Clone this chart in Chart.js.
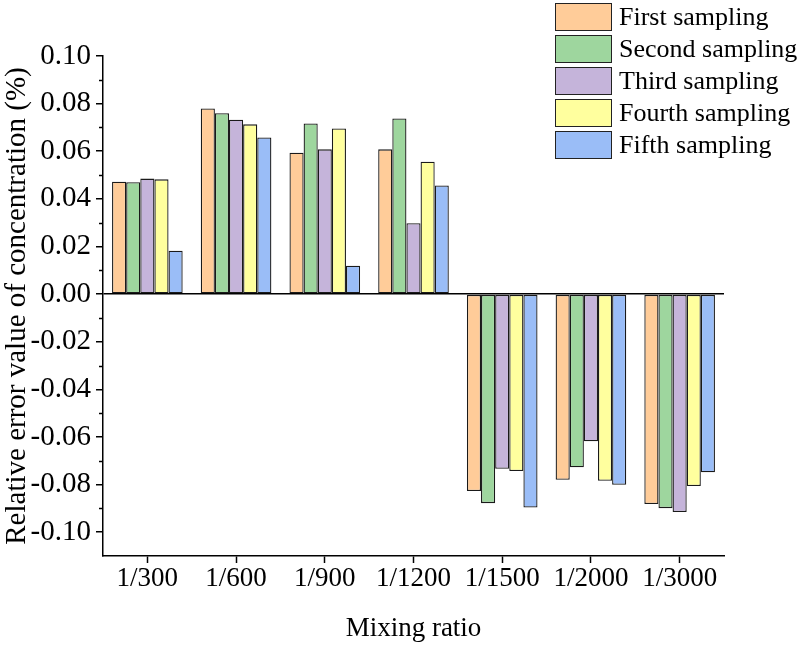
<!DOCTYPE html>
<html>
<head>
<meta charset="utf-8">
<script src="https://cdn.jsdelivr.net/npm/chart.js@4/dist/chart.umd.min.js"></script>
<style>
    body { margin: 0; background: #fff; }
    #wrap { position: relative; width: 799px; height: 645px; }
    #legenda { position: absolute; left: 555px; top: 1px; font-family: 'Liberation Serif', 'Times New Roman', serif; font-size: 26px; color: #000; }
    .item { display: flex; align-items: center; height: 32px; }
    .caixa { width: 55px; height: 26px; border: 1.5px solid #222; margin-right: 7px; }
</style>
</head>
<body>
<div id="wrap">
    <canvas id="canvasChart" width="799" height="645"></canvas>
    <div id="legenda"></div>
</div>
<script>
const categories = ['1/300', '1/600', '1/900', '1/1200', '1/1500', '1/2000', '1/3000'];
const seriesNames = ['First sampling', 'Second sampling', 'Third sampling', 'Fourth sampling', 'Fifth sampling'];

const firstSampling = [0.0472, 0.0780, 0.0594, 0.0608, -0.0827, -0.0780, -0.0882];
const secondSampling = [0.0470, 0.0760, 0.0717, 0.0738, -0.0878, -0.0727, -0.0899];
const thirdSampling = [0.0485, 0.0732, 0.0608, 0.0298, -0.0734, -0.0618, -0.0915];
const fourthSampling = [0.0482, 0.0713, 0.0696, 0.0556, -0.0743, -0.0784, -0.0806];
const fifthSampling = [0.0182, 0.0658, 0.0119, 0.0456, -0.0896, -0.0801, -0.0748];

const yTicks = [-0.10, -0.08, -0.06, -0.04, -0.02, 0, 0.02, 0.04, 0.06, 0.08, 0.10];
const yMinorTicks = [-0.09, -0.07, -0.05, -0.03, -0.01, 0.01, 0.03, 0.05, 0.07, 0.09];

const CORES = ['#FFCC99', '#9ED69E', '#C5B4DA', '#FFFF9E', '#9ABDF7'];
const FONTE = "'Liberation Serif', 'Times New Roman', serif";

Chart.defaults.font.family = FONTE;
Chart.defaults.color = '#000';

// minor ticks on the y axis (Chart.js has no minor ticks of its own)
const minorTicks = {
    id: 'minorTicks',
    afterDraw(chart) {
        const y = chart.scales.y;
        const ctx = chart.ctx;
        ctx.save();
        ctx.strokeStyle = '#000';
        ctx.lineWidth = 1.5;
        yMinorTicks.forEach(v => {
            const py = Math.round(y.getPixelForValue(v)) + 0.5;
            ctx.beginPath();
            ctx.moveTo(y.right - 4, py);
            ctx.lineTo(y.right, py);
            ctx.stroke();
        });
        ctx.restore();
    }
};

const dados = [firstSampling, secondSampling, thirdSampling, fourthSampling, fifthSampling];

let ctx = document.querySelector('#canvasChart');
let myChart = new Chart(ctx, {
    type: 'bar',
    data: {
        labels: categories,
        datasets: dados.map((d, i) => ({
            label: seriesNames[i],
            data: d,
            backgroundColor: CORES[i],
            borderColor: '#1a1a1a',
            borderWidth: 1.3,
            borderSkipped: false,
            categoryPercentage: 0.796,
            barPercentage: 1.0
        }))
    },
    options: {
        responsive: false,
        animation: false,
        layout: {
            padding: { top: 56, right: 75, left: 0, bottom: 0 }
        },
        plugins: {
            legend: { display: false },
            tooltip: { enabled: false }
        },
        scales: {
            x: {
                grid: {
                    display: true,
                    drawOnChartArea: false,
                    drawTicks: true,
                    offset: false,
                    tickLength: 7,
                    tickWidth: 1.5,
                    tickColor: '#000'
                },
                border: { color: '#000', width: 1.5 },
                ticks: {
                    font: { size: 27 },
                    padding: 0,
                    maxRotation: 0,
                    autoSkip: false
                },
                title: {
                    display: true,
                    text: 'Mixing ratio',
                    font: { size: 27 },
                    padding: 0
                },
                afterFit: (scale) => { scale.height = 89; }
            },
            y: {
                min: -0.11,
                max: 0.10,
                afterBuildTicks: (scale) => {
                    scale.ticks = yTicks.map(v => ({ value: v }));
                },
                grid: {
                    drawOnChartArea: true,
                    drawTicks: true,
                    tickLength: 7,
                    tickWidth: 1.5,
                    tickColor: '#000',
                    lineWidth: 1.5,
                    color: (c) => (c.tick && c.tick.value === 0) ? '#000' : 'rgba(0,0,0,0)'
                },
                border: { color: '#000', width: 1.5 },
                ticks: {
                    font: { size: 29 },
                    padding: 5,
                    autoSkip: false,
                    callback: (v) => Number(v).toFixed(2)
                },
                title: {
                    display: true,
                    text: 'Relative error value of concentration (%)',
                    font: { size: 29 },
                    padding: 0
                },
                afterFit: (scale) => { scale.width = 103; }
            }
        }
    },
    plugins: [minorTicks]
});

// legenda em HTML, montada a partir dos datasets
const legenda = document.querySelector('#legenda');
myChart.data.datasets.forEach(ds => {
    const item = document.createElement('div');
    item.className = 'item';
    const caixa = document.createElement('div');
    caixa.className = 'caixa';
    caixa.style.background = ds.backgroundColor;
    const texto = document.createElement('span');
    texto.textContent = ds.label;
    item.appendChild(caixa);
    item.appendChild(texto);
    legenda.appendChild(item);
});
</script>
</body>
</html>
